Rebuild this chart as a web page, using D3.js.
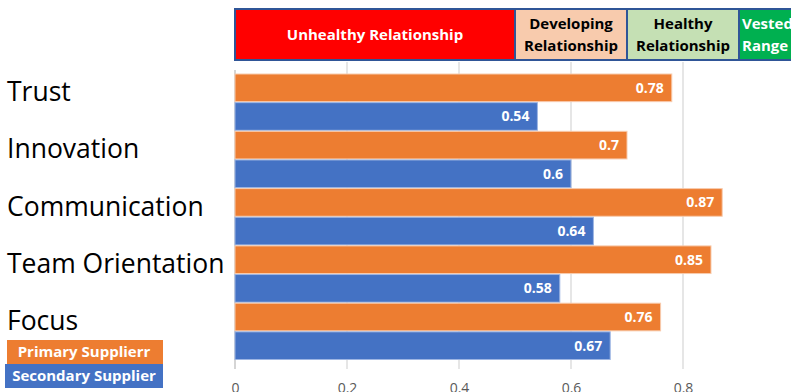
<!DOCTYPE html>
<html>
<head>
<meta charset="utf-8">
<script src="https://cdn.jsdelivr.net/npm/d3@7"></script>
<style>
  body { margin: 0; background: #fff; overflow: hidden; }
  svg { display: block; font-family: "Open Sans", sans-serif; }
</style>
</head>
<body>
<svg id="drawing_region"></svg>
<script>
// chart values
const categories = ["Trust", "Innovation", "Communication", "Team Orientation", "Focus"];
const primary = [0.78, 0.7, 0.87, 0.85, 0.76];
const secondary = [0.54, 0.6, 0.64, 0.58, 0.67];
const seriesNames = ["Primary Supplierr", "Secondary Supplier"];
const ticks = [0, 0.2, 0.4, 0.6, 0.8];

// relationship bands along the top
const rangeNames = [["Unhealthy Relationship"], ["Developing", "Relationship"], ["Healthy", "Relationship"], ["Vested", "Range"]];
const rangeStart = [0, 0.5, 0.7, 0.9];
const rangeEnd = [0.5, 0.7, 0.9, 1.0];

const config = {
    width: 791,
    height: 392,
    left: 235,
    top: 73.5,
    bottom: 360
};

const colors = { primary: "#ED7D31", secondary: "#4472C4" };
const rangeFill = ["#FF0000", "#F8CBAD", "#C5E0B4", "#00B050"];
const rangeText = ["#fff", "#000", "#000", "#fff"];

const svg = d3.select("#drawing_region")
    .attr("width", config.width)
    .attr("height", config.height);

const xscale = d3.scaleLinear()
    .domain([0, 1])
    .range([config.left, config.left + 560]);

const yscale = d3.scaleBand()
    .domain(categories)
    .range([config.top, config.bottom]);

const sub = d3.scaleBand()
    .domain([0, 1])
    .range([0, yscale.bandwidth()]);

// gridlines
svg.append("g")
    .selectAll("line")
    .data(ticks.slice(1))
    .enter()
    .append("line")
    .attr("x1", d => xscale(d))
    .attr("x2", d => xscale(d))
    .attr("y1", 62)
    .attr("y2", 369)
    .attr("stroke", "#d9d9d9")
    .attr("stroke-width", 1.3);

// axis at bottom
const xaxis = d3.axisBottom(xscale)
    .tickValues(ticks)
    .tickSize(0)
    .tickPadding(0)
    .tickFormat(d => d === 0 ? "0" : d3.format(".1f")(d));

const xaxis_group = svg.append("g")
    .attr("transform", `translate(0, 383)`)
    .call(xaxis);
xaxis_group.select(".domain").remove();
xaxis_group.selectAll("text")
    .attr("fill", "#595959")
    .attr("font-size", "14px")
    .attr("font-family", "Open Sans, sans-serif");

// left axis line
svg.append("line")
    .attr("x1", xscale(0))
    .attr("x2", xscale(0))
    .attr("y1", 70)
    .attr("y2", 369)
    .attr("stroke", "#bfbfbf")
    .attr("stroke-width", 1.3);

// bars
const rows = categories.map((c, i) => ({ cat: c, vals: [primary[i], secondary[i]] }));

const groups = svg.append("g")
    .selectAll("g")
    .data(rows)
    .enter()
    .append("g")
    .attr("transform", d => `translate(0, ${yscale(d.cat)})`);

const barColors = [colors.primary, colors.secondary];

groups.selectAll("rect")
    .data(d => d.vals.map((v, k) => ({ v: v, k: k })))
    .enter()
    .append("rect")
    .attr("x", xscale(0))
    .attr("y", d => sub(d.k) + 0.5)
    .attr("width", d => xscale(d.v) - xscale(0))
    .attr("height", sub.bandwidth() - 1)
    .attr("fill", d => barColors[d.k])
    .attr("stroke", d => d.k === 0 ? "#f8cbad" : "#9db5e3")
    .attr("stroke-width", 1);

groups.selectAll("text.val")
    .data(d => d.vals.map((v, k) => ({ v: v, k: k })))
    .enter()
    .append("text")
    .attr("class", "val")
    .attr("x", d => xscale(d.v) - 8)
    .attr("y", d => sub(d.k) + sub.bandwidth() / 2 + 5)
    .attr("text-anchor", "end")
    .attr("fill", "#fff")
    .attr("font-size", "14px")
    .attr("font-weight", "bold")
    .text(d => d.v);

// category labels
svg.append("g")
    .selectAll("text")
    .data(categories)
    .enter()
    .append("text")
    .attr("x", 7)
    .attr("y", d => yscale(d) + yscale.bandwidth() / 2 - 1)
    .attr("font-size", "26.5px")
    .attr("fill", "#000")
    .text(d => d);

// top range bands
const bands = svg.append("g");
rangeNames.forEach((lines, i) => {
    const x0 = xscale(rangeStart[i]);
    const x1 = xscale(rangeEnd[i]);
    bands.append("rect")
        .attr("x", x0)
        .attr("y", 9)
        .attr("width", x1 - x0)
        .attr("height", 51)
        .attr("fill", rangeFill[i])
        .attr("stroke", "#2F5597")
        .attr("stroke-width", 2);
    const t = bands.append("text")
        .attr("x", i === 3 ? x0 + 3 : (x0 + x1) / 2)
        .attr("text-anchor", i === 3 ? "start" : "middle")
        .attr("fill", rangeText[i])
        .attr("font-size", "15px")
        .attr("font-weight", "bold");
    lines.forEach((s, j) => {
        t.append("tspan")
            .attr("x", i === 3 ? x0 + 3 : (x0 + x1) / 2)
            .attr("y", lines.length === 1 ? 40 : 29 + j * 22)
            .text(s);
    });
});

// legend
const legend = svg.append("g");
seriesNames.forEach((s, i) => {
    legend.append("rect")
        .attr("x", i === 0 ? 7 : 5)
        .attr("y", 340 + i * 24)
        .attr("width", i === 0 ? 156 : 158)
        .attr("height", 24)
        .attr("fill", barColors[i]);
    legend.append("text")
        .attr("x", 84)
        .attr("y", 357 + i * 24)
        .attr("text-anchor", "middle")
        .attr("fill", "#fff")
        .attr("font-size", "15px")
        .attr("font-weight", "bold")
        .text(s);
});
</script>
</body>
</html>
